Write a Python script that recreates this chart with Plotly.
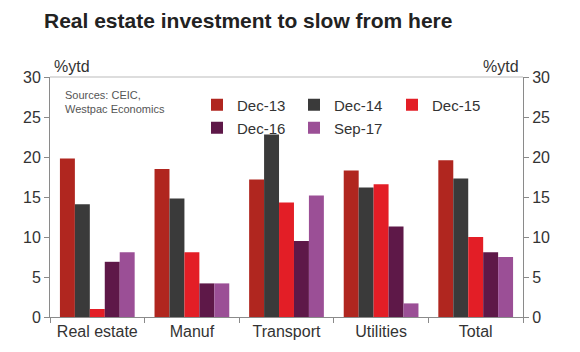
import plotly.graph_objects as go

categories = ["Real estate", "Manuf", "Transport", "Utilities", "Total"]
series_names = ["Dec-13", "Dec-14", "Dec-15", "Dec-16", "Sep-17"]
dec13 = [19.8, 18.5, 17.2, 18.3, 19.6]
dec14 = [14.1, 14.8, 22.8, 16.2, 17.3]
dec15 = [1.0, 8.1, 14.3, 16.6, 10.0]
dec16 = [6.9, 4.2, 9.5, 11.3, 8.1]
sep17 = [8.1, 4.2, 15.2, 1.7, 7.5]
series_values = [dec13, dec14, dec15, dec16, sep17]
colors = ["#B0261F", "#3A3A3A", "#E31E26", "#5E1848", "#9B4F96"]
y_ticks = [0, 5, 10, 15, 20, 25, 30]

FONT = "Liberation Sans, Arial, sans-serif"
# legend anchor positions in pixels (left, text-row centre)
legend_px = [(197, 105), (294, 105), (392, 105), (197, 128), (294, 128)]
L, R, T, B, W, H = 50, 57, 77, 35, 580, 352
pw, ph = W - L - R, H - T - B

fig = go.Figure()
legend_keys = ["legend", "legend2", "legend3", "legend4", "legend5"]
for name, vals, col, lk in zip(series_names, series_values, colors, legend_keys):
    fig.add_trace(go.Bar(x=categories, y=vals, name=name, marker_color=col,
                         marker_line_width=0, legend=lk))
# invisible helper so the right axis is drawn
fig.add_trace(go.Scatter(x=categories, y=dec13, yaxis="y2", mode="markers",
                         marker=dict(opacity=0), showlegend=False, hoverinfo="skip"))

axis_col = "#8a8a8a"
tick_font = dict(family=FONT, size=16, color="#333333")

layout = dict(
    width=W, height=H,
    margin=dict(l=L, r=R, t=T, b=B),
    paper_bgcolor="white", plot_bgcolor="white",
    barmode="group", bargap=0.21, bargroupgap=0,
    title=dict(text="<b>Real estate investment to slow from here</b>",
               font=dict(family=FONT, size=21, color="#222222"),
               xref="container", x=44/580, xanchor="left",
               yref="container", y=1-21/352, yanchor="middle"),
    xaxis=dict(showline=True, linecolor=axis_col, linewidth=1, ticks="outside",
               tickson="boundaries", tickcolor=axis_col, ticklen=5,
               tickfont=tick_font),
    yaxis=dict(range=[0, 30], tickvals=y_ticks, showgrid=False, zeroline=False,
               showline=True, linecolor=axis_col, linewidth=1, ticks="outside",
               tickcolor=axis_col, ticklen=5, tickfont=tick_font),
    yaxis2=dict(range=[0, 30], tickvals=y_ticks, overlaying="y", side="right",
                showgrid=False, zeroline=False, showline=True, linecolor=axis_col,
                linewidth=1, ticks="outside", tickcolor=axis_col, ticklen=5,
                tickfont=tick_font),
    showlegend=True,
)
for lk, (px, py) in zip(legend_keys, legend_px):
    layout[lk] = dict(x=(px - L) / pw, xanchor="left", y=(H - B - py) / ph, yanchor="middle",
                      orientation="h", itemwidth=30,
                      font=dict(family=FONT, size=15, color="#333333"),
                      bgcolor="rgba(0,0,0,0)")
fig.update_layout(**layout)

fig.add_shape(type="line", xref="paper", yref="paper", x0=0, x1=1, y0=1, y1=1,
              line=dict(color="#bbbbbb", width=1))

fig.add_annotation(text="%ytd", xref="paper", yref="paper", x=0.005, y=1.0,
                   xanchor="left", yanchor="bottom", showarrow=False,
                   font=dict(family=FONT, size=16, color="#333333"))
fig.add_annotation(text="%ytd", xref="paper", yref="paper", x=0.995, y=1.0,
                   xanchor="right", yanchor="bottom", showarrow=False,
                   font=dict(family=FONT, size=16, color="#333333"))
fig.add_annotation(text="Sources: CEIC,<br>Westpac Economics", xref="paper", yref="paper",
                   x=0.028, y=0.96, xanchor="left", yanchor="top", showarrow=False, align="left",
                   font=dict(family=FONT, size=11, color="#555555"))

fig.write_html("out.html")
